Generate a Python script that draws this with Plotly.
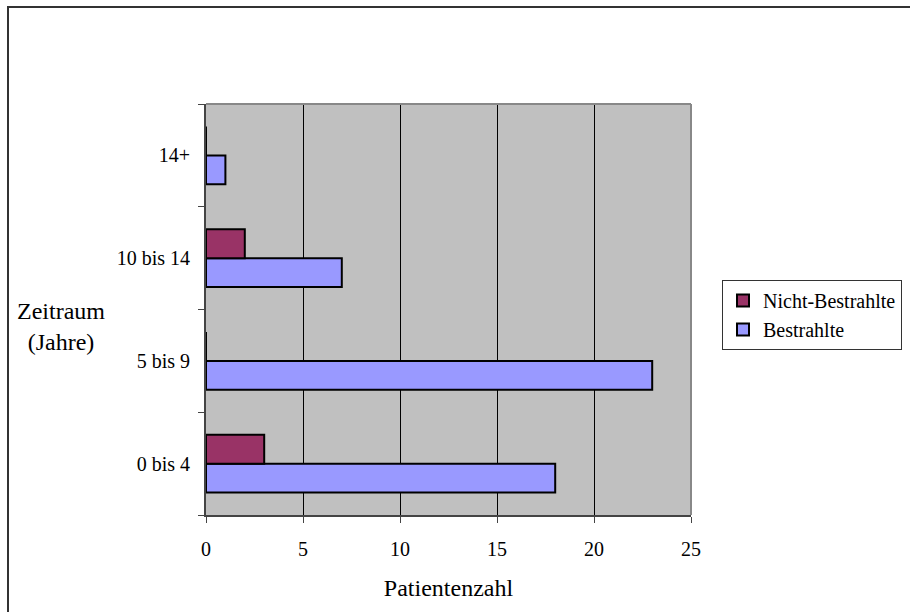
import plotly.graph_objects as go

# Follow-up period categories (bottom to top) and patient counts
zeitraum = ["0 bis 4", "5 bis 9", "10 bis 14", "14+"]
bestrahlte = [18, 23, 7, 1]
nicht_bestrahlte = [3, 0, 2, 0]
x_ticks = [0, 5, 10, 15, 20, 25]

FONT = "Liberation Serif, Times New Roman, serif"

fig = go.Figure()
fig.add_trace(go.Bar(
    y=zeitraum, x=bestrahlte, orientation="h", name="Bestrahlte",
    marker=dict(color="#9999FF", line=dict(color="black", width=2)),
))
fig.add_trace(go.Bar(
    y=zeitraum, x=nicht_bestrahlte, orientation="h", name="Nicht-Bestrahlte",
    marker=dict(color="#993366", line=dict(color="black", width=2)),
))

L, R, T, B = 206, 219, 104, 97
W, H = 910, 612
pw, ph = W - L - R, H - T - B

fig.update_layout(
    width=W, height=H,
    margin=dict(l=L, r=R, t=T, b=B, autoexpand=False),
    paper_bgcolor="white", plot_bgcolor="#C0C0C0",
    barmode="group", bargap=0.44, bargroupgap=0,
    font=dict(family=FONT, size=20, color="black"),
    showlegend=True,
    legend=dict(
        traceorder="reversed",
        x=(722 - L) / pw, xanchor="left",
        y=1 - (280 - T) / ph, yanchor="top",
        bgcolor="white", bordercolor="#333333", borderwidth=1,
        font=dict(family=FONT, size=20, color="black"),
        itemwidth=30, tracegroupgap=0,
    ),
    xaxis=dict(
        range=[0, 25], tickvals=x_ticks, ticktext=[str(v) for v in x_ticks],
        showgrid=True, gridcolor="black", gridwidth=1, zeroline=False,
        showline=True, linecolor="#444444", linewidth=2,
        ticks="outside", ticklen=6, tickcolor="#444444", tickwidth=1,
        ticklabelstandoff=9, tickfont=dict(family=FONT, size=20),
        title=dict(text="Patientenzahl", font=dict(family=FONT, size=24), standoff=20),
    ),
    yaxis=dict(
        categoryorder="array", categoryarray=zeitraum,
        showgrid=False, zeroline=False,
        showline=True, linecolor="#444444", linewidth=2,
        ticks="outside", ticklen=6, tickcolor="#444444", tickwidth=1,
        tickson="boundaries", ticklabelstandoff=10, tickfont=dict(family=FONT, size=20),
    ),
    shapes=[
        # grey frame of the plot area (top and right)
        dict(type="line", xref="paper", yref="paper", x0=0, x1=1, y0=1, y1=1,
             line=dict(color="#888888", width=2)),
        dict(type="line", xref="paper", yref="paper", x0=1, x1=1, y0=0, y1=1,
             line=dict(color="#888888", width=2)),
        # outer chart border
        dict(type="rect", xref="paper", yref="paper",
             x0=(8 - L) / pw, x1=(W + 20 - L) / pw,
             y0=1 - (H + 20 - T) / ph, y1=1 - (7 - T) / ph,
             line=dict(color="#333333", width=2), layer="below"),
    ],
    annotations=[
        dict(text="Zeitraum<br>(Jahre)", xref="paper", yref="paper",
             x=(61 - L) / pw, y=1 - (326 - T) / ph, xanchor="center", yanchor="middle",
             showarrow=False, align="center",
             font=dict(family=FONT, size=24, color="black")),
    ],
)

fig.write_html("out.html")
